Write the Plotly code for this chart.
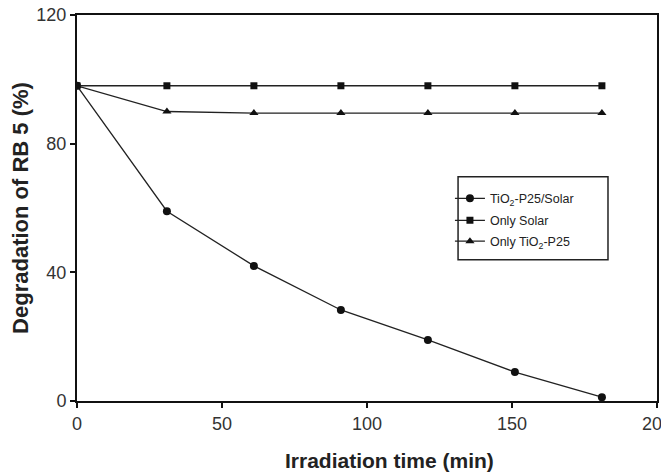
import plotly.graph_objects as go

time_min = [0, 31, 61, 91, 121, 151, 181]
tio2_solar = [98, 59, 42, 28.3, 19, 9, 1.2]
only_solar = [98, 98, 98, 98, 98, 98, 98]
only_tio2 = [98, 90, 89.5, 89.5, 89.5, 89.5, 89.5]

x_ticks = [0, 50, 100, 150, 200]
y_ticks = [0, 40, 80, 120]

line_col = "#222222"
fig = go.Figure()
fig.add_trace(go.Scatter(x=time_min, y=tio2_solar, mode="lines+markers",
                         name="TiO<sub>2</sub>-P25/Solar", legend="legend",
                         line=dict(color=line_col, width=1.3),
                         marker=dict(symbol="circle", size=8, color="#111111")))
fig.add_trace(go.Scatter(x=time_min, y=only_solar, mode="lines+markers",
                         name="Only Solar", legend="legend2",
                         line=dict(color=line_col, width=1.3),
                         marker=dict(symbol="square", size=7, color="#111111")))
fig.add_trace(go.Scatter(x=time_min, y=only_tio2, mode="lines+markers",
                         name="Only TiO<sub>2</sub>-P25", legend="legend3",
                         line=dict(color=line_col, width=1.3),
                         marker=dict(symbol="triangle-up", size=8, color="#111111")))

axis_common = dict(showline=True, linecolor="#111111", linewidth=2, mirror=True,
                   ticks="outside", ticklen=5, tickwidth=1.5, tickcolor="#111111",
                   showgrid=False, zeroline=False, automargin=False,
                   ticklabeloverflow="allow",
                   tickfont=dict(family="Arial, Liberation Sans", size=18, color="#333333"))

fig.update_xaxes(range=[0, 200], tickvals=x_ticks, ticktext=[str(v) for v in x_ticks],
                 ticklabelstandoff=0, **axis_common)
fig.update_yaxes(range=[0, 120], tickvals=y_ticks, ticktext=[str(v) for v in y_ticks],
                 ticklabelstandoff=0,
                 title=dict(text="<b>Degradation of RB 5 (%)</b>", standoff=5,
                            font=dict(family="Arial, Liberation Sans", size=22, color="#222222")),
                 **axis_common)

fig.add_annotation(text="<b>Irradiation time (min)</b>", xref="paper", yref="paper",
                   x=0.539, y=0, xanchor="center", yanchor="middle", yshift=-59.5,
                   showarrow=False,
                   font=dict(family="Arial, Liberation Sans", size=21, color="#222222"))

# legend frame
fig.add_shape(type="rect", xref="paper", yref="paper",
              x0=0.657, x1=0.9155, y0=0.366, y1=0.581,
              line=dict(color="#222222", width=1.5), fillcolor="white", layer="below")

leg_common = dict(x=0.643, xanchor="left", yanchor="middle",
                  bgcolor="rgba(0,0,0,0)", borderwidth=0,
                  font=dict(family="Arial, Liberation Sans", size=12.5, color="#222222"),
                  itemwidth=30)

fig.update_layout(
    width=669, height=475,
    margin=dict(l=69, r=20, t=7, b=81.5),
    plot_bgcolor="white", paper_bgcolor="white",
    showlegend=True,
    legend=dict(y=0.524, **leg_common),
    legend2=dict(y=0.467, **leg_common),
    legend3=dict(y=0.413, **leg_common),
)

fig.write_html("out.html")
